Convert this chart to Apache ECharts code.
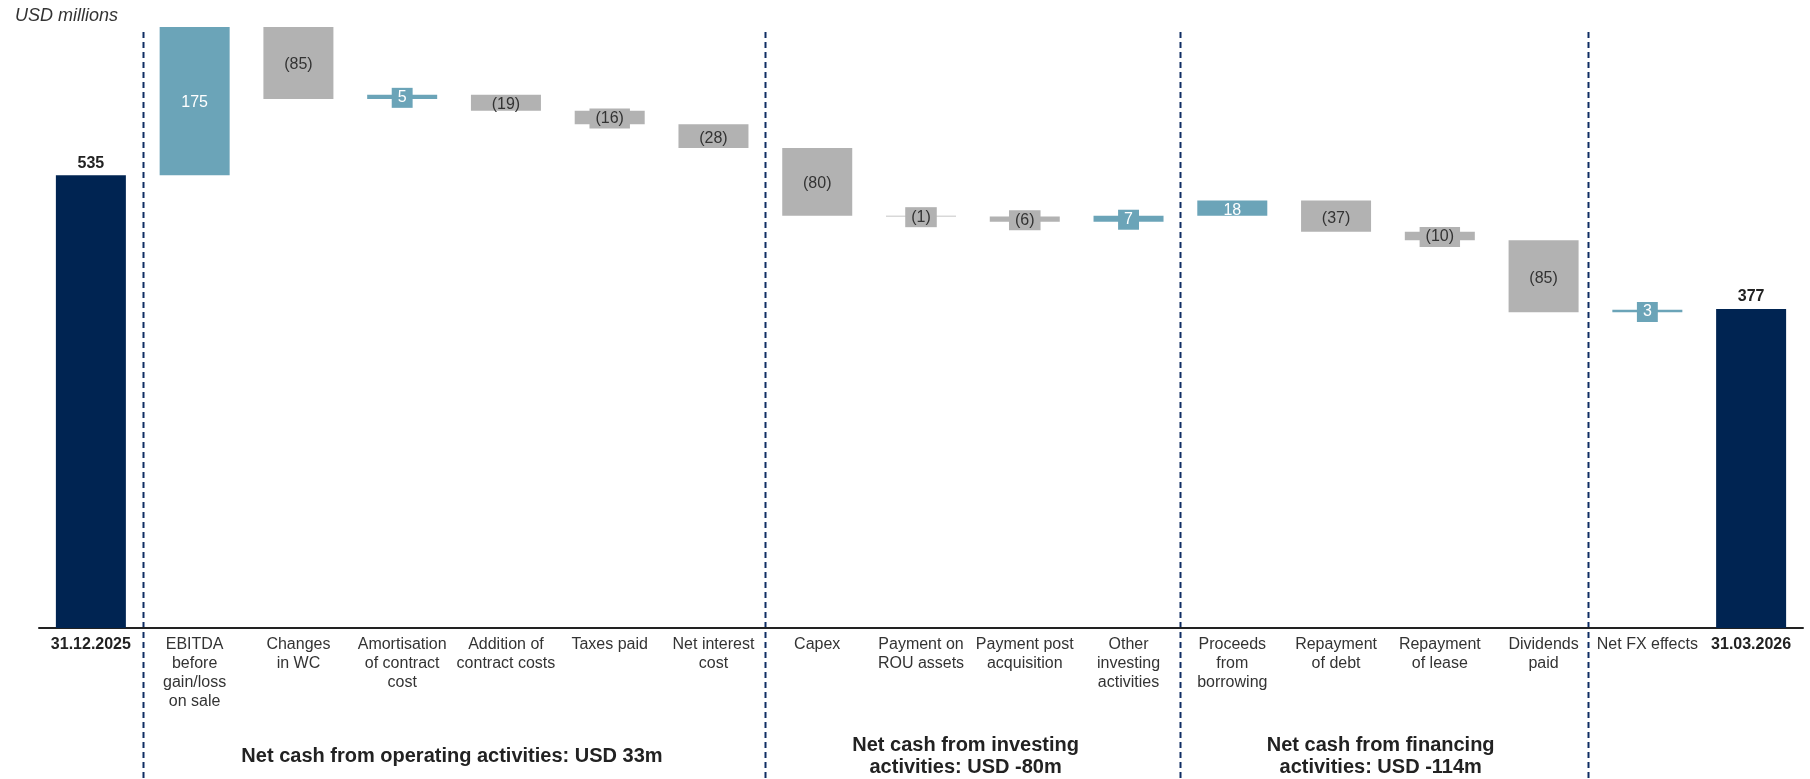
<!DOCTYPE html>
<html>
<head>
<meta charset="utf-8">
<title>Cash flow bridge</title>
<script src="https://cdn.jsdelivr.net/npm/echarts@6/dist/echarts.min.js"></script>
<style>
  html, body { margin: 0; padding: 0; background: #ffffff; }
  #chart { width: 1810px; height: 779px; }
</style>
</head>
<body>
<div id="chart"></div>
<script>
// Cash bridge, USD millions
const categories = [
  '31.12.2025',
  'EBITDA\nbefore\ngain/loss\non sale',
  'Changes\nin WC',
  'Amortisation\nof contract\ncost',
  'Addition of\ncontract costs',
  'Taxes paid',
  'Net interest\ncost',
  'Capex',
  'Payment on\nROU assets',
  'Payment post\nacquisition',
  'Other\ninvesting\nactivities',
  'Proceeds\nfrom\nborrowing',
  'Repayment\nof debt',
  'Repayment\nof lease',
  'Dividends\npaid',
  'Net FX effects',
  '31.03.2026'
];
const openingBalance = 535;
const closingBalance = 377;
const movements = [175, -85, 5, -19, -16, -28, -80, -1, -6, 7, 18, -37, -10, -85, 3];
const sectionTitles = [
  'Net cash from operating activities: USD 33m',
  'Net cash from investing\nactivities: USD -80m',
  'Net cash from financing\nactivities: USD -114m'
];

// Layout (in category-slot units: slot i spans [i, i+1])
const dividerSlots = [1, 7, 11, 14.93];
const titleSlots = [3.98, 8.93, 12.93];

const FONT = '"Liberation Sans", Arial, sans-serif';
const NAVY = '#002452';
const TEAL = '#6BA4B8';
const GREY = '#B2B2B2';
const DIVIDER = '#0F2D63';

function totalLabel(v) {
  return { show: true, position: 'top', distance: 4, fontWeight: 'bold', color: '#222', formatter: String(v) };
}

// Build the floating waterfall: invisible base + visible segment
const baseData = [0];
const barData = [{ value: openingBalance, itemStyle: { color: NAVY }, label: totalLabel(openingBalance) }];
let running = openingBalance;
movements.forEach(function (m) {
  const start = running;
  const end = running + m;
  baseData.push(Math.min(start, end));
  const colour = m >= 0 ? TEAL : GREY;
  const small = Math.abs(m) < 17;
  const label = {
    show: true,
    position: 'inside',
    offset: [0, 2],
    color: m >= 0 ? '#ffffff' : '#333333',
    formatter: m >= 0 ? String(m) : '(' + (-m) + ')'
  };
  if (small) {
    label.backgroundColor = colour;
    label.padding = [2, 6];
    label.lineHeight = 16;
    label.offset = [0, 1];
  }
  barData.push({ value: Math.abs(m), itemStyle: { color: colour }, label: label });
  running = end;
});
baseData.push(0);
barData.push({ value: closingBalance, itemStyle: { color: NAVY }, label: totalLabel(closingBalance) });

const chart = echarts.init(document.getElementById('chart'), null, { renderer: 'canvas' });
const lastIdx = categories.length - 1;

chart.setOption({
  animation: false,
  textStyle: { fontFamily: FONT },
  title: {
    text: 'USD millions',
    left: 10,
    top: 2,
    textStyle: { fontFamily: FONT, fontStyle: 'italic', fontWeight: 'normal', fontSize: 18, color: '#333' }
  },
  grid: { left: 39, right: 7, top: 27, bottom: 151, containLabel: false },
  xAxis: {
    type: 'category',
    data: categories,
    axisTick: { show: false },
    axisLine: { show: true, lineStyle: { color: '#222', width: 2 } },
    axisLabel: {
      interval: 0,
      margin: 7,
      fontFamily: FONT,
      fontSize: 16,
      lineHeight: 19,
      color: '#333',
      formatter: function (v, i) {
        return (i === 0 || i === lastIdx) ? '{b|' + v + '}' : v;
      },
      rich: {
        b: { fontFamily: FONT, fontSize: 16, fontWeight: 'bold', color: '#222', lineHeight: 19 }
      }
    }
  },
  yAxis: {
    type: 'value',
    min: 0,
    max: openingBalance + movements[0],
    show: false,
    splitLine: { show: false }
  },
  series: [
    {
      name: 'base',
      type: 'bar',
      stack: 'bridge',
      silent: true,
      barWidth: 70,
      itemStyle: { color: 'rgba(0,0,0,0)' },
      data: baseData
    },
    {
      name: 'movement',
      type: 'bar',
      stack: 'bridge',
      barWidth: 70,
      label: { fontFamily: FONT, fontSize: 16 },
      data: barData
    }
  ]
});

// Section dividers and section titles placed from the category axis scale
function slotToPixel(s) {
  const c0 = chart.convertToPixel({ xAxisIndex: 0 }, 0);
  const c1 = chart.convertToPixel({ xAxisIndex: 0 }, 1);
  const w = c1 - c0;
  return c0 + (s - 0.5) * w;
}

const graphics = [];
dividerSlots.forEach(function (s) {
  const x = Math.round(slotToPixel(s)) + 0.5;
  graphics.push({
    type: 'line',
    silent: true,
    shape: { x1: x, y1: 32, x2: x, y2: 779 },
    style: { stroke: DIVIDER, lineWidth: 2, lineDash: [6, 4] }
  });
});
sectionTitles.forEach(function (t, i) {
  graphics.push({
    type: 'text',
    silent: true,
    x: slotToPixel(titleSlots[i]),
    y: 756,
    style: {
      text: t,
      font: 'bold 20px ' + FONT,
      fill: '#222',
      align: 'center',
      verticalAlign: 'middle',
      textAlign: 'center',
      textVerticalAlign: 'middle',
      lineHeight: 22
    }
  });
});
chart.setOption({ graphic: graphics });
</script>
</body>
</html>
